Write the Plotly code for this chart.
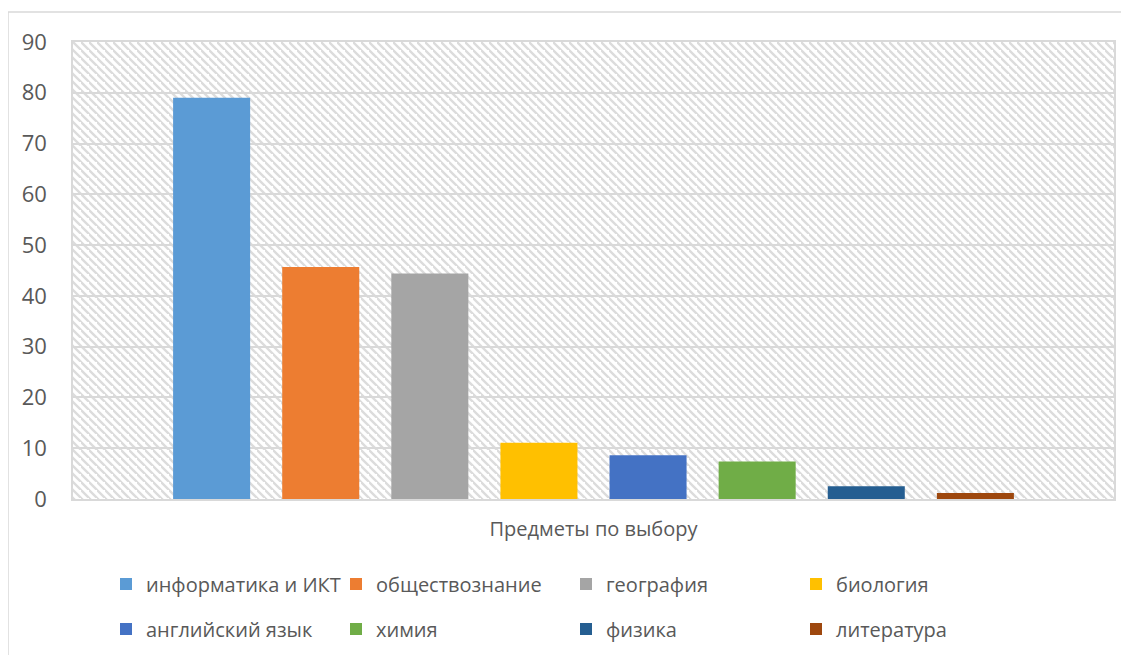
import base64
import plotly.graph_objects as go

category = "Предметы по выбору"
subjects = ["информатика и ИКТ", "обществознание", "география", "биология",
            "английский язык", "химия", "физика", "литература"]
values = [79.0, 45.7, 44.4, 11.1, 8.6, 7.4, 2.5, 1.2]
colors = ["#5B9BD5", "#ED7D31", "#A5A5A5", "#FFC000",
          "#4472C4", "#70AD47", "#255E91", "#9E480E"]
y_ticks = list(range(0, 100, 10))

# page body has an 8px margin: work in figure coordinates = screen - 8
OFF = 8
W, H = 1129 - OFF, 655 - OFF
ML, MT = 73 - OFF, 42 - OFF
MR = W - (1114 - OFF)
MB = H - (499 - OFF)
PW, PH = W - ML - MR, H - MT - MB

svg = (
    f'<svg xmlns="http://www.w3.org/2000/svg" width="{PW}" height="{PH}" '
    f'viewBox="0 0 {PW} {PH}" preserveAspectRatio="none">'
    '<defs><pattern id="p" patternUnits="userSpaceOnUse" width="8" height="8">'
    '<path d="M-2,-2 L10,10 M-6,2 L2,10 M6,-6 L14,2" stroke="#DCDCDC" stroke-width="2.4"/>'
    '</pattern></defs>'
    f'<rect width="{PW}" height="{PH}" fill="#FFFFFF"/>'
    f'<rect width="{PW}" height="{PH}" fill="url(#p)"/></svg>'
)
svg_uri = "data:image/svg+xml;base64," + base64.b64encode(svg.encode()).decode()

fig = go.Figure()
for i, (name, val, col) in enumerate(zip(subjects, values, colors)):
    fig.add_trace(go.Bar(
        x=[category], y=[val], name=name, marker_color=col,
        marker_line_width=0,
        legend="legend" if i < 4 else "legend2",
        hoverinfo="skip",
    ))

grid = "#D9D9D9"
txt = "#595959"
font = "Open Sans, Noto Sans, DejaVu Sans, sans-serif"

legend_common = dict(
    orientation="h", xref="container", yref="container",
    xanchor="left", yanchor="middle",
    font=dict(family=font, size=20, color=txt),
    entrywidth=185, entrywidthmode="pixels",
    itemwidth=30, bgcolor="rgba(0,0,0,0)", traceorder="normal",
)

fig.update_layout(
    width=W, height=H,
    margin=dict(l=ML, r=MR, t=MT, b=MB),
    paper_bgcolor="white", plot_bgcolor="rgba(0,0,0,0)",
    barmode="group", bargap=0.1615, bargroupgap=0.294,
    font=dict(family=font, size=20, color=txt),
    showlegend=True,
    legend=dict(x=(106 - OFF) / W, y=1 - (584 - OFF) / H, **legend_common),
    legend2=dict(x=(106 - OFF) / W, y=1 - (629 - OFF) / H, **legend_common),
    xaxis=dict(
        type="category", showgrid=False, zeroline=False,
        showline=True, linecolor=grid, linewidth=1.5, mirror=True,
        ticks="outside", ticklen=11, tickcolor="rgba(0,0,0,0)",
        tickfont=dict(family=font, size=20, color=txt),
    ),
    yaxis=dict(
        range=[0, 90], tickvals=y_ticks, showgrid=True, gridcolor=grid,
        gridwidth=1.5, zeroline=False,
        showline=True, linecolor=grid, linewidth=1.5, mirror=True,
        ticks="outside", ticklen=20, tickcolor="rgba(0,0,0,0)",
        tickfont=dict(family=font, size=22, color=txt),
    ),
    images=[dict(source=svg_uri, xref="paper", yref="paper", x=0, y=1,
                 sizex=1, sizey=1, xanchor="left", yanchor="top",
                 sizing="stretch", layer="below")],
    shapes=[
        dict(type="line", xref="paper", yref="paper",
             x0=(8 - 73) / PW, x1=(W + 5 - ML) / PW,
             y0=(499 - 12) / PH, y1=(499 - 12) / PH,
             line=dict(color=grid, width=1.5)),
        dict(type="line", xref="paper", yref="paper",
             x0=(8 - 73) / PW, x1=(8 - 73) / PW,
             y0=(499 - 12) / PH, y1=(499 - 665) / PH,
             line=dict(color=grid, width=1.5)),
    ],
)

fig.write_html("out.html")
